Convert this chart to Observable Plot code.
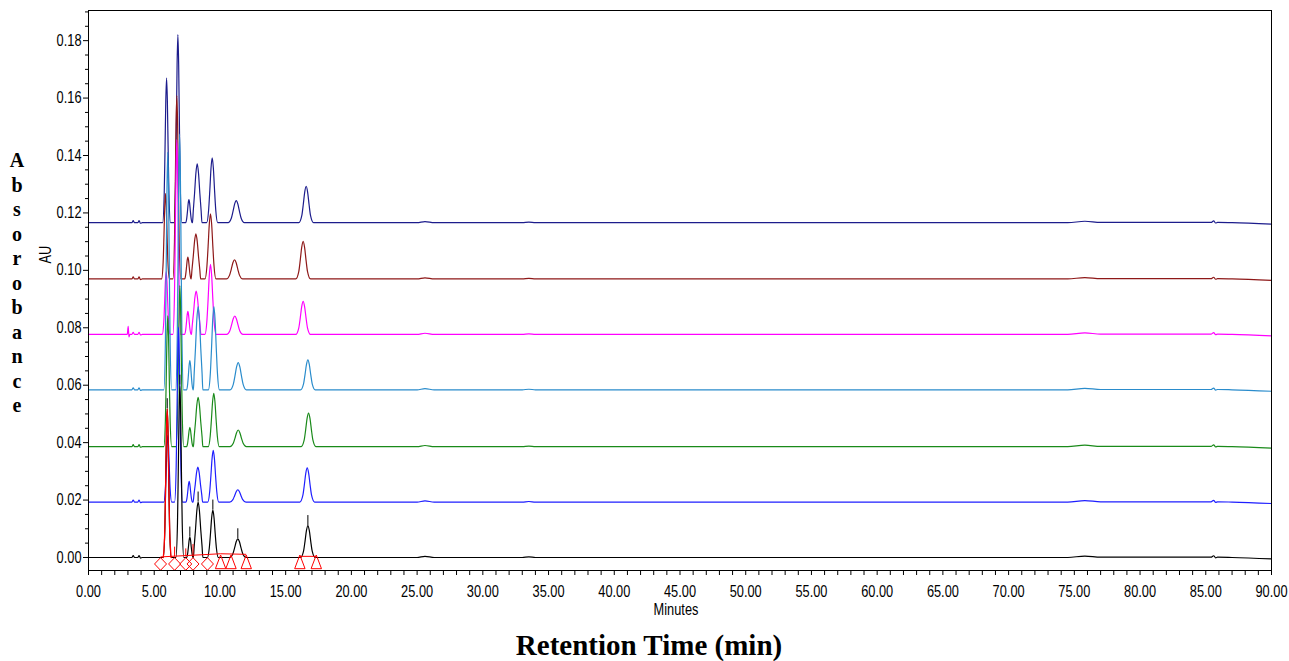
<!DOCTYPE html>
<html><head><meta charset="utf-8">
<script src="https://cdn.jsdelivr.net/npm/d3@7"></script>
<script src="https://cdn.jsdelivr.net/npm/@observablehq/plot@0.6"></script>
<style>
body{margin:0;background:#fff;}
#wrap{position:relative;width:1289px;height:661px;overflow:hidden;}
#ylab{position:absolute;left:7px;top:148px;width:20px;font:bold 20px "Liberation Serif","Times New Roman",serif;line-height:24.5px;text-align:center;}
#xlab{position:absolute;left:0;top:629px;width:1298px;text-align:center;font:bold 29px "Liberation Serif","Times New Roman",serif;}
</style></head><body>
<div id="wrap"><div id="chart"></div>
<div id="ylab">A<br>b<br>s<br>o<br>r<br>o<br>b<br>a<br>n<br>c<br>e</div>
<div id="xlab">Retention Time (min)</div></div>
<script>
// ---- data ----
const seriesNames = ["run 1","run 2","run 3","run 4","run 5","run 6","run 7"];
const seriesColors = ["#1c1c8c","#8e1818","#ff00ff","#2a8ccc","#1a8a1a","#1e1eff","#000000"];
const seriesBaselines = [0.1166, 0.0970, 0.0777, 0.0584, 0.0386, 0.0193, 0.0000];

const navyTimes      = [5.94, 6.80, 7.64, 8.27, 9.41, 11.24, 16.56];
const navyHeights    = [0.0504, 0.0655, 0.0080, 0.0205, 0.0226, 0.0077, 0.0127];
const darkRedTimes   = [5.86, 6.72, 7.56, 8.17, 9.28, 11.11, 16.33];
const darkRedHeights = [0.0298, 0.0639, 0.0076, 0.0157, 0.0227, 0.0067, 0.0131];
const magentaTimes   = [5.91, 6.72, 7.56, 8.19, 9.28, 11.13, 16.33];
const magentaHeights = [0.0219, 0.0678, 0.0080, 0.0151, 0.0244, 0.0064, 0.0115];
const lightBlueTimes   = [6.03, 6.93, 7.71, 8.34, 9.54, 11.39, 16.69];
const lightBlueHeights = [0.0827, 0.0891, 0.0102, 0.0290, 0.0290, 0.0095, 0.0104];
const greenTimes     = [6.03, 6.95, 7.71, 8.34, 9.53, 11.39, 16.74];
const greenHeights   = [0.0456, 0.0561, 0.0067, 0.0172, 0.0186, 0.0058, 0.0117];
const blueTimes      = [6.03, 6.85, 7.66, 8.32, 9.49, 11.36, 16.64];
const blueHeights    = [0.0232, 0.0609, 0.0072, 0.0122, 0.0180, 0.0043, 0.0119];
const blackTimes     = [5.99, 6.95, 7.71, 8.34, 9.46, 11.36, 16.69];
const blackHeights   = [0.0518, 0.0600, 0.0071, 0.0193, 0.0165, 0.0065, 0.0111];

// per-peak half width at half height and foot distance (minutes)
const peakHalfWidths = [0.12, 0.12, 0.11, 0.20, 0.18, 0.25, 0.22];
const peakFootWidths = [0.30, 0.30, 0.24, 0.36, 0.42, 0.62, 0.56];
// relative peak profile: [offset in half widths, fraction of height]
const profileOffsets = [-1.5, -1, -0.5, 0, 0.5, 1, 1.5];
const profileLevels  = [0.2, 0.5, 0.84, 1, 0.84, 0.5, 0.2];

// small baseline features common to all traces (time, offset)
const featureTimes  = [0, 3.30, 3.40, 3.50, 3.75, 3.85, 3.95, 4.10, 25.0, 25.6, 26.3, 33.0, 33.5, 34.0, 74.5, 75.8, 77.0, 85.4, 85.6, 85.75, 85.9, 87.0, 90.0];
const featureValues = [0, 0, 0.0007, 0, 0, 0.0007, -0.0002, 0, 0, 0.0004, 0, 0, 0.0002, 0, 0, 0.0005, 0.0001, 0.0001, 0.0006, -0.0001, 0.0001, 0, -0.0005];
// extra spike on the magenta trace
const magentaSpikeTimes  = [2.95, 3.02, 3.08, 3.15];
const magentaSpikeValues = [0, 0.0028, -0.0009, 0];

// integration markers of the black trace
const diamondTimes  = [5.48, 6.55, 7.40, 7.95, 9.05];
const triangleTimes = [10.05, 10.84, 12.00, 16.08, 17.33];
const redBaseX1 = [5.48, 10.05, 16.08];
const redBaseY1 = [0.0002, 0.0013, 0.0004];
const redBaseX2 = [10.05, 12.00, 17.33];
const redBaseY2 = [0.0013, 0.0011, 0.0004];
const dropTimes = [6.55, 7.40, 7.95];
const dropTops  = [0.0036, 0.0030, 0.0045];

const xMajorTicks = [0,5,10,15,20,25,30,35,40,45,50,55,60,65,70,75,80,85,90];
const yMajorTicks = [0,0.02,0.04,0.06,0.08,0.10,0.12,0.14,0.16,0.18];

// ---- build table ----
const peakTables = [
  [navyTimes, navyHeights], [darkRedTimes, darkRedHeights], [magentaTimes, magentaHeights],
  [lightBlueTimes, lightBlueHeights], [greenTimes, greenHeights], [blueTimes, blueHeights],
  [blackTimes, blackHeights]
];
const rows = [];
seriesNames.forEach((name, s) => {
  const base = seriesBaselines[s];
  const pts = featureTimes.map((t, i) => [t, featureValues[i]]);
  if (s === 2) magentaSpikeTimes.forEach((t, i) => pts.push([t, magentaSpikeValues[i]]));
  const [times, heights] = peakTables[s];
  times.forEach((t, i) => {
    const h = heights[i], hw = peakHalfWidths[i], fw = peakFootWidths[i];
    pts.push([t - fw, 0], [t + fw, 0]);
    profileOffsets.forEach((o, k) => pts.push([t + o * hw, h * profileLevels[k]]));
  });
  pts.sort((a, b) => a[0] - b[0]);
  let last = -Infinity;
  for (const [t, v] of pts) {
    if (t <= last + 1e-6) continue;
    last = t;
    rows.push({series: name, t, v: base + v});
  }
});
const blackApex = blackTimes.map((t, i) => ({t, h: blackHeights[i]}));
const redBase = redBaseX1.map((x, i) => ({x1: x, y1: redBaseY1[i], x2: redBaseX2[i], y2: redBaseY2[i]}));
const drops = dropTimes.map((t, i) => ({t, top: dropTops[i]}));

const xMinor = d3.range(1, 90).filter(d => d % 5 !== 0);
const yMinor = d3.range(1, 39).map(d => d * 0.005).filter((d, i) => (i + 1) % 4 !== 0);

const diamondSym = {draw(ctx) { ctx.moveTo(0, -6.3); ctx.lineTo(6, 0); ctx.lineTo(0, 6.3); ctx.lineTo(-6, 0); ctx.closePath(); }};
const triangleSym = {draw(ctx) { ctx.moveTo(0, -7); ctx.lineTo(5.2, 6.7); ctx.lineTo(-5.2, 6.7); ctx.closePath(); }};

const fontFam = "'Liberation Sans',Arial,sans-serif";

const chart = Plot.plot({
  width: 1289, height: 625,
  marginLeft: 88, marginRight: 18, marginTop: 10, marginBottom: 55,
  style: {fontFamily: fontFam, fontSize: "16px", color: "#000", background: "#fff"},
  x: {domain: [0, 90], label: null},
  y: {domain: [-0.00453, 0.1905], label: null},
  color: {domain: seriesNames, range: seriesColors},
  marks: [
    Plot.axisY(yMinor, {tickSize: 3, tickFormat: () => "", label: null}),
    Plot.axisY(yMajorTicks, {tickSize: 5, tickPadding: 2, fontSize: 16, tickFormat: d => d.toFixed(2), label: null}),
    Plot.axisX(xMinor, {tickSize: 5, tickFormat: () => "", label: null}),
    Plot.axisX(xMajorTicks, {tickSize: 5, tickPadding: 10, fontSize: 16, tickFormat: d => d.toFixed(2), label: null}),
    Plot.line(rows, {x: "t", y: "v", z: "series", stroke: "series", curve: "monotone-x", strokeWidth: 1.2}),
    Plot.line(rows.filter(d => d.series === "run 7" && d.t >= 5.48 && d.t <= 6.4), {x: "t", y: "v", stroke: "#ff0000", curve: "monotone-x", strokeWidth: 1.3}),
    Plot.ruleX(blackApex, {x: "t", y1: "h", y2: d => d.h + 0.0035, stroke: "#000", strokeWidth: 1}),
    Plot.link(redBase, {x1: "x1", y1: "y1", x2: "x2", y2: "y2", stroke: "#ff0000", strokeWidth: 1}),
    Plot.ruleX(drops, {x: "t", y1: 0.0002, y2: "top", stroke: "#ff0000", strokeWidth: 1}),
    Plot.dot(diamondTimes, {x: d => d, y: -0.00226, symbol: diamondSym, stroke: "#ff0000", fill: "none", strokeWidth: 1}),
    Plot.dot(triangleTimes, {x: d => d, y: -0.00157, symbol: triangleSym, stroke: "#ff0000", fill: "none", strokeWidth: 1}),
    Plot.text(["AU"], {frameAnchor: "left", dx: -43, dy: -27, rotate: -90, fontSize: 16}),
    Plot.text(["Minutes"], {frameAnchor: "bottom", dy: 44, dx: -4, fontSize: 16}),
    Plot.frame({stroke: "#000", strokeWidth: 1})
  ]
});
// narrow the sans-serif labels like the original's condensed lettering
chart.querySelectorAll("text").forEach(t => {
  const tr = t.getAttribute("transform");
  if (tr && tr.includes("translate")) {
    t.setAttribute("transform", tr + " scale(0.8,1)");
  } else {
    const x = +(t.getAttribute("x") || 0), y = +(t.getAttribute("y") || 0);
    t.removeAttribute("x"); t.removeAttribute("y");
    t.setAttribute("transform", `${tr || ""} translate(${x},${y}) scale(0.8,1)`);
  }
});
document.getElementById("chart").appendChild(chart);
</script>
</body></html>
